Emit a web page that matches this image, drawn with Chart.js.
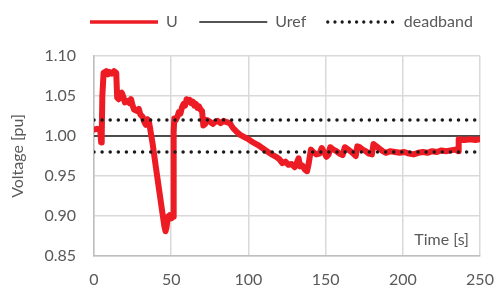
<!DOCTYPE html>
<html>
<head>
<meta charset="utf-8">
<script src="https://cdn.jsdelivr.net/npm/chart.js@4.4.1/dist/chart.umd.min.js"></script>
<style>
  html, body { margin: 0; padding: 0; background: #ffffff; }
  #wrap { width: 496px; height: 288px; }
</style>
</head>
<body>
<div id="wrap"><canvas id="c" width="496" height="288"></canvas></div>
<script>
// ---- data ----
const timeS = [0, 2, 4, 4.6, 5.0, 5.4, 6.2, 8, 9, 10, 11.5, 13, 14.4, 15, 16, 17, 18, 19, 20, 22, 23, 24, 25, 26, 28, 29, 30, 31.5, 32.5, 33.5, 34.5, 35.5,
  38, 40, 42, 44, 45.5, 46.3, 47, 47.8, 49, 50, 51.2, 51.6, 52, 53, 54, 55, 56, 57, 58, 59, 60, 61, 62, 63, 64, 65, 66, 67, 68, 69, 70, 70.8,
  72, 73, 75, 77, 78, 80, 82, 84, 85, 88, 90, 92, 95, 98, 100, 103, 106, 109, 112, 115, 118, 120, 122, 124, 126, 128, 130, 131.5, 132.5, 133.5, 135,
  136.5, 138, 139, 140.5, 142, 144, 146, 147.5, 149, 150.5, 152, 153, 155, 157, 159, 161, 162.5, 164, 166, 168, 169.5, 170.5, 172, 174, 176,
  178, 180, 181, 183, 185, 187, 189, 192, 195, 198, 201, 204, 207, 210, 213, 216, 219, 222, 225, 228, 231, 234, 235.8, 236.2, 240, 244, 247, 250];
const voltageU = [1.008, 1.009, 1.008, 0.992, 1.000, 1.050, 1.079, 1.081, 1.077, 1.080, 1.078, 1.081, 1.079, 1.048, 1.046, 1.052, 1.054, 1.049,
  1.042, 1.044, 1.041, 1.046, 1.038, 1.033, 1.031, 1.034, 1.027, 1.024, 1.018, 1.014, 1.021, 1.019,
  0.990, 0.962, 0.935, 0.908, 0.888, 0.881, 0.886, 0.899, 0.901, 0.897, 0.899, 1.005, 1.022, 1.020, 1.024, 1.030, 1.028, 1.036, 1.040, 1.038,
  1.046, 1.043, 1.045, 1.041, 1.043, 1.038, 1.040, 1.035, 1.037, 1.033, 1.031, 1.013,
  1.015, 1.020, 1.018, 1.015, 1.017, 1.019, 1.016, 1.019, 1.018, 1.016, 1.010, 1.006, 1.001, 0.998, 0.996, 0.992, 0.989, 0.985, 0.981, 0.977, 0.974, 0.971,
  0.966, 0.968, 0.964, 0.965, 0.961, 0.967, 0.972, 0.962, 0.963,
  0.958, 0.956, 0.965, 0.983, 0.980, 0.977, 0.978, 0.985, 0.980, 0.974, 0.977, 0.986, 0.983, 0.981, 0.978, 0.976, 0.986, 0.984, 0.981, 0.978,
  0.975, 0.987, 0.986, 0.983, 0.981,
  0.978, 0.977, 0.990, 0.987, 0.984, 0.981, 0.979, 0.981, 0.980, 0.979, 0.980, 0.978, 0.977, 0.979, 0.980, 0.979, 0.981, 0.980, 0.982, 0.981,
  0.982, 0.983, 0.981, 0.996, 0.995, 0.996, 0.995, 0.996];
const uRef = 1.00;
const deadbandHigh = 1.02;
const deadbandLow = 0.98;
const xRange = [0, 250];
const yRange = [0.85, 1.10];
const legendNames = ['U', 'Uref', 'deadband'];
const xAxisLabel = 'Time [s]';
const yAxisLabel = 'Voltage [pu]';

// ---- chart ----
const FONT = 'Lato';
const GREY = '#595959';
Chart.defaults.font.family = FONT;
Chart.defaults.font.size = 16;
Chart.defaults.color = GREY;

const uPoints = timeS.map((t, i) => ({ x: t, y: voltageU[i] }));
const flat = v => [{ x: xRange[0], y: v }, { x: xRange[1], y: v }];

const RED = '#ED1C24';
const DOT = [0, 8.1];

const timeLabelPlugin = {
  id: 'timeLabel',
  afterDatasetsDraw(chart) {
    const { ctx, chartArea } = chart;
    ctx.save();
    ctx.font = '16px ' + FONT;
    ctx.fillStyle = GREY;
    ctx.textAlign = 'right';
    ctx.textBaseline = 'middle';
    ctx.fillText(xAxisLabel, chartArea.right - 11, chartArea.bottom - 16);
    ctx.restore();
  }
};

const legendPlacePlugin = {
  id: 'legendPlace',
  afterLayout(chart) {
    const l = chart.legend;
    if (!l) return;
    const w = l.right - l.left, h = l.bottom - l.top;
    l.left = 90 - 21.5; l.right = l.left + w;
    l.top = -7.5; l.bottom = l.top + h;
  }
};

new Chart(document.getElementById('c'), {
  type: 'line',
  data: {
    datasets: [
      { label: legendNames[0], data: uPoints, borderColor: RED, borderWidth: 6, pointRadius: 0,
        tension: 0, borderJoinStyle: 'round', borderCapStyle: 'round', order: 1 },
      { label: legendNames[1], data: flat(uRef), borderColor: '#1a1a1a', borderWidth: 1.4, pointRadius: 0, order: 2 },
      { label: legendNames[2], data: flat(deadbandHigh), borderColor: '#1a1a1a', borderWidth: 3.5, borderDash: DOT,
        borderCapStyle: 'round', pointRadius: 0, order: 0 },
      { label: legendNames[2] + ' low', data: flat(deadbandLow), borderColor: '#1a1a1a', borderWidth: 3.5, borderDash: DOT,
        borderCapStyle: 'round', pointRadius: 0, order: 0 }
    ]
  },
  options: {
    responsive: false,
    animation: false,
    devicePixelRatio: 1,
    layout: { padding: { top: 8.5, left: 0, right: 16, bottom: 0 } },
    plugins: {
      tooltip: { enabled: false },
      legend: {
        position: 'top',
        align: 'start',
        labels: {
          usePointStyle: true,
          pointStyleWidth: 68,
          padding: 21.5,
          color: GREY,
          font: { size: 16, family: FONT },
          generateLabels() {
            return [
              { text: legendNames[0], pointStyle: 'line', strokeStyle: RED, fillStyle: RED, lineWidth: 3.5,
                lineDash: [], lineCap: 'butt', datasetIndex: 0, hidden: false, fontColor: GREY },
              { text: legendNames[1], pointStyle: 'line', strokeStyle: '#1a1a1a', fillStyle: '#1a1a1a', lineWidth: 1.4,
                lineDash: [], lineCap: 'butt', datasetIndex: 1, hidden: false, fontColor: GREY },
              { text: legendNames[2], pointStyle: 'line', strokeStyle: '#1a1a1a', fillStyle: '#1a1a1a', lineWidth: 3.3,
                lineDash: [0, 7.2], lineCap: 'round', datasetIndex: 2, hidden: false, fontColor: GREY }
            ];
          }
        }
      }
    },
    scales: {
      x: {
        type: 'linear', min: xRange[0], max: xRange[1],
        ticks: { stepSize: 50, padding: 14, color: GREY, font: { size: 16 } },
        grid: { color: '#d9d9d9', lineWidth: 1.5, drawTicks: false },
        border: { color: '#bfbfbf', width: 1.5 },
        afterFit(s) { s.height = 32; s.paddingLeft = 0; s.paddingRight = 0; }
      },
      y: {
        min: yRange[0], max: yRange[1],
        ticks: { stepSize: 0.05, padding: 18, color: GREY, font: { size: 16 },
          callback: v => Number(v).toFixed(2) },
        grid: { color: '#d9d9d9', lineWidth: 1.5, drawTicks: false },
        border: { color: '#bfbfbf', width: 1.5 },
        title: { display: true, text: yAxisLabel, color: GREY, font: { size: 16 }, padding: { top: 8, bottom: 0 } },
        afterFit(s) { s.width = 94; s.paddingTop = 0; s.paddingBottom = 0; }
      }
    }
  },
  plugins: [timeLabelPlugin, legendPlacePlugin]
});
</script>
</body>
</html>
